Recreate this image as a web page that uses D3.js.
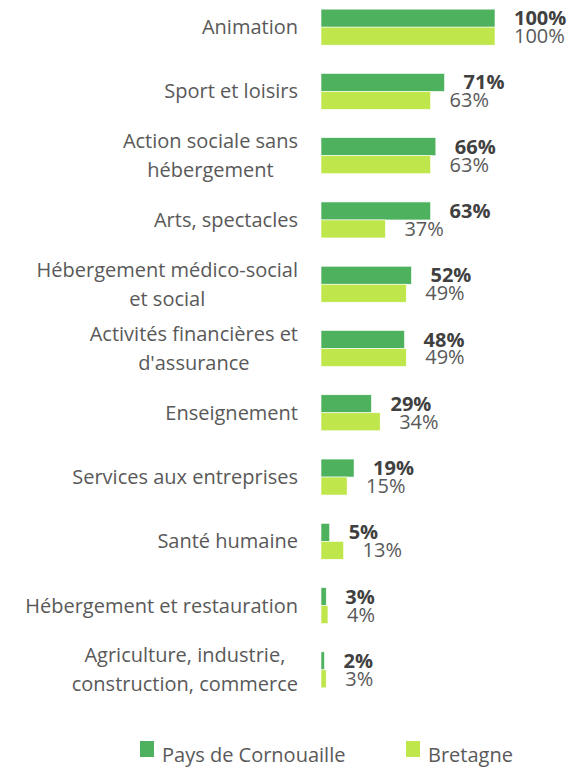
<!DOCTYPE html>
<html>
<head>
<meta charset="utf-8">
<script src="https://cdn.jsdelivr.net/npm/d3@7"></script>
<style>
  body { margin: 0; background: #fff; }
  svg text { font-family: "Open Sans", sans-serif; }
</style>
</head>
<body>
<div id="chart"></div>
<script>
// Data
const categories = [
    "Animation",
    "Sport et loisirs",
    "Action sociale sans\nhébergement",
    "Arts, spectacles",
    "Hébergement médico-social\net social",
    "Activités financières et\nd'assurance",
    "Enseignement",
    "Services aux entreprises",
    "Santé humaine",
    "Hébergement et restauration",
    "Agriculture, industrie,\nconstruction, commerce"
];
const seriesNames = ["Pays de Cornouaille", "Bretagne"];
const cornouaille = [100, 71, 66, 63, 52, 48, 29, 19, 5, 3, 2];
const bretagne = [100, 63, 63, 37, 49, 49, 34, 15, 13, 4, 3];
const seriesColors = ["#4db15e", "#bfe64a"];

const width = 579, height = 769;

const svg = d3.select("#chart")
    .append("svg")
    .attr("width", width)
    .attr("height", height);

const x = d3.scaleLinear()
    .domain([0, 100])
    .range([321, 495]);

const y = d3.scaleBand()
    .domain(categories)
    .range([-5, 702])
    .paddingInner(0.44)
    .paddingOuter(0.22);

const ySub = d3.scaleBand()
    .domain(seriesNames)
    .range([0, y.bandwidth()]);

const rows = categories.map((c, i) => ({
    category: c,
    values: [
        { series: seriesNames[0], value: cornouaille[i] },
        { series: seriesNames[1], value: bretagne[i] }
    ]
}));

// bars
const groups = svg.selectAll(".group")
    .data(rows)
    .enter().append("g")
    .attr("class", "group")
    .attr("transform", d => `translate(0,${y(d.category)})`);

groups.selectAll("rect")
    .data(d => d.values)
    .enter().append("rect")
    .attr("x", x(0))
    .attr("y", d => ySub(d.series))
    .attr("width", d => x(d.value) - x(0))
    .attr("height", ySub.bandwidth())
    .attr("fill", (d, i) => seriesColors[i])
    .attr("stroke", "#fff")
    .attr("stroke-width", 0.6);

// value labels (they overlap a little, like in the original)
groups.selectAll(".val")
    .data(d => d.values)
    .enter().append("text")
    .attr("class", "val")
    .attr("x", d => x(d.value) + 19)
    .attr("y", d => ySub(d.series) + ySub.bandwidth() / 2 + 7)
    .attr("font-size", 20)
    .attr("font-weight", (d, i) => i === 0 ? "bold" : "normal")
    .attr("fill", (d, i) => i === 0 ? "#404040" : "#595959")
    .text(d => d.value + "%");

// category labels, lines centred inside a right-aligned block
const labelRight = 298;
const lineH = 29;
categories.forEach(c => {
    const lines = c.split("\n");
    const cy = y(c) + y.bandwidth() / 2;
    const t = svg.append("text")
        .attr("font-size", 20)
        .attr("fill", "#595959")
        .attr("text-anchor", "middle");
    const spans = lines.map((l, i) => t.append("tspan")
        .attr("y", cy + 7 + (i - (lines.length - 1) / 2) * lineH)
        .text(l));
    const maxW = d3.max(spans, s => s.node().getComputedTextLength());
    spans.forEach(s => s.attr("x", labelRight - maxW / 2));
});

// legend
const legendX = [140, 406];
const legend = svg.selectAll(".legend")
    .data(seriesNames)
    .enter().append("g")
    .attr("class", "legend")
    .attr("transform", (d, i) => `translate(${legendX[i]},741)`);

legend.append("rect")
    .attr("width", 14)
    .attr("height", 16)
    .attr("fill", (d, i) => seriesColors[i]);

legend.append("text")
    .attr("x", 22)
    .attr("y", 21)
    .attr("font-size", 20)
    .attr("fill", "#595959")
    .text(d => d);
</script>
</body>
</html>
